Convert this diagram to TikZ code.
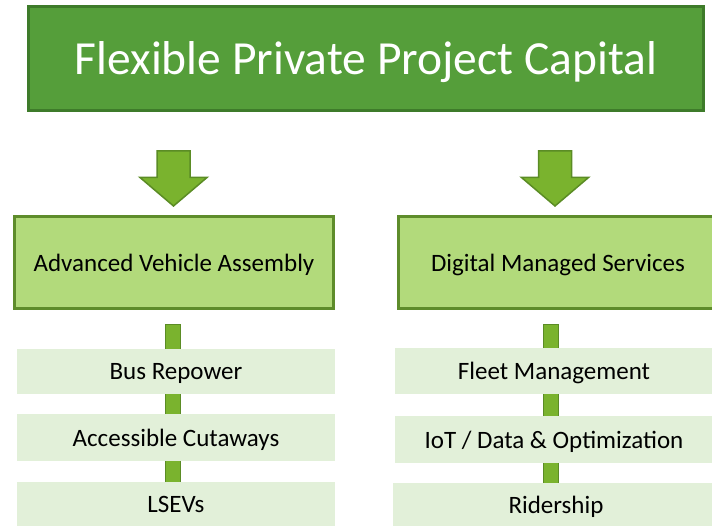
\documentclass[tikz,border=0pt]{standalone}
\usepackage{fontspec}
\setmainfont{Carlito}
\usetikzlibrary{positioning,backgrounds,calc}
\definecolor{titlegreen}{HTML}{559E3A}
\definecolor{titleedge}{HTML}{3E7B2A}
\definecolor{arrowgreen}{HTML}{7AB32E}
\definecolor{arrowedge}{HTML}{5B8C25}
\definecolor{midgreen}{HTML}{B2DA7B}
\definecolor{midedge}{HTML}{5E8C2B}
\definecolor{itemgreen}{HTML}{E2F0D9}
\begin{document}
\begin{tikzpicture}[x=1pt,y=-1pt,
    titlebox/.style={draw=titleedge,line width=3pt,fill=titlegreen,text=white,
      minimum width=675pt,minimum height=104pt,inner sep=0pt,text depth=0pt,
      font=\fontsize{47.5}{56}\selectfont},
    midbox/.style={draw=midedge,line width=3pt,fill=midgreen,
      minimum width=319pt,minimum height=91.5pt,inner sep=0pt,text depth=0pt,
      font=\fontsize{25}{30}\selectfont},
    item/.style={fill=itemgreen,minimum width=318pt,inner sep=0pt,text depth=0pt,
      font=\fontsize{25}{30}\selectfont},
    bar/.style={draw=arrowedge,fill=arrowgreen,line width=1pt},
    bigarrow/.style={draw=arrowedge,fill=arrowgreen,line width=1.5pt,line join=miter}]
  \useasboundingbox (0,0) rectangle (712,526);

  \node[titlebox] (fppc) at (366,58.5) {Flexible Private Project Capital};

  % the two streams
  \node[midbox] (ava) at (174,262.5) {Advanced Vehicle Assembly};
  \node[midbox] (dms) at (558,262.5) {Digital Managed Services};

  \foreach \cx in {173.5,555} {
    \draw[bigarrow] (\cx-16.5,151) -- (\cx+16.5,151) -- (\cx+16.5,177.5) -- (\cx+33.5,177.5)
      -- (\cx,206) -- (\cx-33.5,177.5) -- (\cx-16.5,177.5) -- cycle;
  }

  % left column
  \node[item,minimum height=45pt] (bus) at (176,371.5) {Bus Repower};
  \node[item,minimum height=47pt] (cut) at (176,437.5) {Accessible Cutaways};
  \node[item,minimum height=44pt] (lsev) at (176,504) {LSEVs};

  % right column
  \node[item,minimum height=46pt] (fleet) at (554,371) {Fleet Management};
  \node[item,minimum height=47pt] (iot) at (554,439.5) {IoT / Data \& Optimization};
  \node[item,minimum height=44pt,minimum width=326pt] (rider) at (556,505) {Ridership};

  \begin{scope}[on background layer]
    \coordinate (abar) at ([yshift=-14.75pt]ava.south);
    \coordinate (dbar) at ([yshift=-14.75pt]dms.south);
    \draw[bar] ($(abar)+(-9,0)$) rectangle ($(abar |- lsev.center)+(6,0)$);
    \draw[bar] ($(dbar)+(-15,0)$) rectangle ($(dbar |- rider.center)+(0,0)$);
  \end{scope}
\end{tikzpicture}
\end{document}
